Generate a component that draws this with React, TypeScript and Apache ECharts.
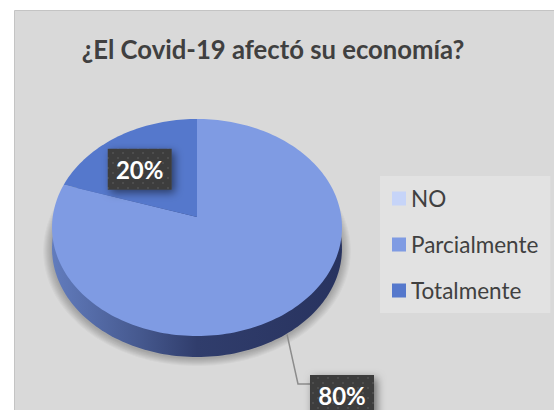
import React, { useEffect, useRef } from "react";
import * as echarts from "echarts";

const titleText = "¿El Covid-19 afectó su economía?";
const categories = ["NO", "Parcialmente", "Totalmente"];
const values = [0, 80, 20];
const colors = ["#c6d4f8", "#7f9be3", "#5578cc"];
const labelTexts = ["", "80%", "20%"];

const FONT = "Lato, Carlito, 'Open Sans', sans-serif";
const total = values.reduce((a, b) => a + b, 0);

// perspective projection of the pie's unit disc onto the page
const CX = 197, VY = 217, KX = 144.3, A = 86.5, C = -0.0968, DEPTH = 21;
function project(theta: number, r = 1, dy = 0): number[] {
  const s = Math.sin(theta) * r;
  const t = -Math.cos(theta) * r;
  const w = 1 + C * t;
  return [CX + (KX * s) / w, (VY + A * t) / w + dy];
}
function arcPoints(from: number, to: number, dy = 0, r = 1): number[][] {
  const n = Math.max(2, Math.ceil(((to - from) / (2 * Math.PI)) * 240));
  const out: number[][] = [];
  for (let i = 0; i <= n; i++) out.push(project(from + ((to - from) * i) / n, r, dy));
  return out;
}
function angles(i: number): number[] {
  const before = values.slice(0, i).reduce((a, b) => a + b, 0);
  return [(before / total) * 2 * Math.PI, ((before + values[i]) / total) * 2 * Math.PI];
}

function dotPattern(): any {
  const c = document.createElement("canvas");
  c.width = 10;
  c.height = 10;
  const g = c.getContext("2d")!;
  g.fillStyle = "#3e3e3e";
  g.fillRect(0, 0, 10, 10);
  g.fillStyle = "#4e4e4e";
  g.fillRect(2, 2, 2, 2);
  g.fillRect(7, 7, 2, 2);
  return { image: c.toDataURL(), repeat: "repeat" };
}

function labelBox(cx: number, cy: number, text: string, pattern: any) {
  return [
    {
      type: "rect",
      shape: { x: cx - 32, y: cy - 20.5, width: 64, height: 41 },
      style: { fill: pattern, shadowBlur: 8, shadowOffsetX: 3, shadowOffsetY: 3, shadowColor: "rgba(0,0,0,0.5)" },
    },
    {
      type: "text",
      style: { text, x: cx, y: cy, align: "center", verticalAlign: "middle", fill: "#ffffff", font: `bold 24px ${FONT}` },
    },
  ];
}

export default function App() {
  const ref = useRef<HTMLDivElement>(null);
  useEffect(() => {
    document.body.style.margin = "0";
    const chart = echarts.init(ref.current!, null, { renderer: "svg" });
    const pattern = dotPattern();

    const sliceSeries = categories.map((name, i) => ({
      type: "custom",
      name,
      coordinateSystem: "none",
      silent: true,
      data: [[values[i]]],
      itemStyle: { color: colors[i] },
      z: 3,
      renderItem: () => {
        const [a0, a1] = angles(i);
        if (values[i] === 0) return { type: "group", children: [] };
        const pts = [[CX, VY], ...arcPoints(a0, a1)];
        return { type: "polygon", shape: { points: pts }, style: { fill: colors[i] } };
      },
    }));

    const shadowLayers = [8, 7, 6, 5, 4, 3, 2, 1].map((k) => ({
      type: "polygon",
      shape: { points: arcPoints(0, 2 * Math.PI, DEPTH + 1, 1 + k * 0.0075) },
      style: { fill: "rgba(0,0,0,0.03)" },
    }));

    const rimSeries = {
      type: "custom",
      name: "rim",
      coordinateSystem: "none",
      silent: true,
      data: [[total]],
      z: 2,
      renderItem: () => ({
        type: "group",
        children: [
          ...shadowLayers,
          {
            type: "polygon",
            shape: { points: arcPoints(0, 2 * Math.PI, DEPTH) },
            style: {
              fill: {
                type: "linear", x: 0, y: 0, x2: 1, y2: 0,
                colorStops: [
                  { offset: 0, color: "#627cbd" },
                  { offset: 0.3, color: "#46598f" },
                  { offset: 0.5, color: "#303d6c" },
                  { offset: 1, color: "#28335f" },
                ],
              },
            },
          },
        ],
      }),
    };

    const labelSeries = {
      type: "custom",
      name: "labels",
      coordinateSystem: "none",
      silent: true,
      data: [[total]],
      z: 5,
      renderItem: () => {
        const [p0, p1] = angles(1);
        const start = project((p0 + p1) / 2, 1, DEPTH);
        const [t0, t1] = angles(2);
        const inner = project((t0 + t1) / 2, 0.7);
        return {
          type: "group",
          children: [
            {
              type: "polyline",
              shape: { points: [[start[0] - 2, start[1] + 2], [298, 384], [310, 384]] },
              style: { stroke: "#8c8c8c", lineWidth: 1.5, fill: "none" },
            },
            ...labelBox(342, 395.5, labelTexts[1], pattern),
            ...labelBox(inner[0] - 1, inner[1] + 10, labelTexts[2], pattern),
          ],
        };
      },
    };

    chart.setOption({
      animation: false,
      backgroundColor: "#ffffff",
      graphic: [
        {
          type: "rect",
          z: -10,
          silent: true,
          shape: { x: 14.5, y: 10.5, width: 600, height: 500 },
          style: { fill: "#d9d9d9", stroke: "#c4c4c4", lineWidth: 1 },
        },
      ],
      title: {
        text: titleText,
        left: 268,
        top: 31,
        textAlign: "center",
        textStyle: { fontFamily: FONT, fontWeight: "bold", fontSize: 25.7, color: "#404040" },
      },
      legend: {
        orient: "vertical",
        left: 380,
        top: 176,
        data: categories,
        backgroundColor: "#e2e2e2",
        padding: [11, 12, 11, 12],
        itemWidth: 14,
        itemHeight: 14,
        itemGap: 23,
        icon: "rect",
        selectedMode: false,
        textStyle: { fontFamily: FONT, fontSize: 22.5, color: "#404040" },
      },
      series: [rimSeries, ...sliceSeries, labelSeries],
    });
    return () => chart.dispose();
  }, []);
  return <div ref={ref} style={{ width: 554, height: 410 }} />;
}
